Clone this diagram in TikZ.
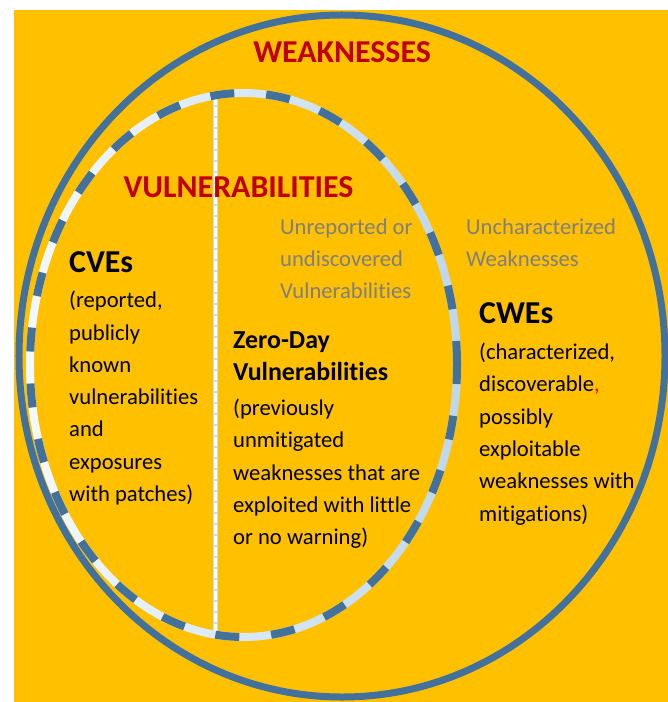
\documentclass[tikz,border=0pt]{standalone}
\usepackage{fontspec}
\setmainfont{Carlito}[Ligatures=NoCommon]
\usetikzlibrary{positioning}

\definecolor{gold}{HTML}{FFC000}
\definecolor{ringblue}{HTML}{41719C}
\definecolor{lightring}{HTML}{BDD7EE}
\definecolor{paleRing}{HTML}{F4F9FE}
\definecolor{setred}{HTML}{C00000}
\definecolor{notegrey}{HTML}{7F7F7F}

\begin{document}
\begin{tikzpicture}[
    x=1bp, y=-1bp,
    setname/.style={font=\fontsize{32}{36}\selectfont\bfseries, text=setred, anchor=base, inner sep=0pt},
    termname/.style={font=\fontsize{32}{36}\selectfont\bfseries, anchor=base west, inner sep=0pt},
    subterm/.style={font=\fontsize{26}{32.4}\selectfont\bfseries, align=left, anchor=base west, inner sep=0pt},
    desc/.style={font=\fontsize{22.7}{32.4}\selectfont, align=left, anchor=base west, inner sep=0pt},
    greynote/.style={desc, text=notegrey},
]
\useasboundingbox (0,0) rectangle (668,702);
\fill[gold] (14,10) rectangle (668,702);

% === Weaknesses: outer set ===
\draw[ringblue, line width=7bp] (342,356) ellipse [x radius=323bp, y radius=341bp];

% === Divider between reported and unreported ===
\coordinate (divtop) at (215.5,96);
\coordinate (divbot) at (215.5,638);
\draw[lightring!85, line width=5.5bp] (divtop) -- (divbot);
\draw[white, line width=2.5bp, dash pattern=on 9bp off 2bp] (divtop) -- (divbot);

% === Vulnerabilities: inner set, two-tone dashed ring ===
\shade[even odd rule, left color=paleRing, right color=lightring]
    (243.5,365) ellipse [x radius=217.5bp, y radius=276bp]
    (243.5,365) ellipse [x radius=209.5bp, y radius=268bp];
\draw[ringblue, line width=8bp, dash pattern=on 24bp off 32bp]
    (243.5,365) ellipse [x radius=213.5bp, y radius=272bp];

% === Set names ===
\node[setname] (weak) at (342,63) {WEAKNESSES};
\node[setname] (vuln) at (238.5,197) {VULNERABILITIES};

% === Grey notes (multi-line nodes sit on their last baseline) ===
\node[greynote] (unrep) at (280,298.8) {Unreported or\\undiscovered\\Vulnerabilities};
\node[greynote] (unchar) at (466,266.4) {Uncharacterized\\Weaknesses};

% === CVEs ===
\node[termname] (cves) at (69,272) {CVEs};
\node[desc] (cvesdesc) at (69,501.4) {(reported,\\publicly\\known\\vulnerabilities\\and\\exposures\\with patches)};

% === Zero-day ===
\node[subterm] (zday) at (233,380.4) {Zero-Day\\Vulnerabilities};
\node[desc] (zdaydesc) at (233,544.6) {(previously\\unmitigated\\weaknesses that are\\exploited with little\\or no warning)};

% === CWEs ===
\node[termname] (cwes) at (479,323) {CWEs};
\node[desc] (cwesdesc) at (479,521) {(characterized,\\discoverable{\color{red},}\\possibly\\exploitable\\weaknesses with\\mitigations)};
\end{tikzpicture}
\end{document}
